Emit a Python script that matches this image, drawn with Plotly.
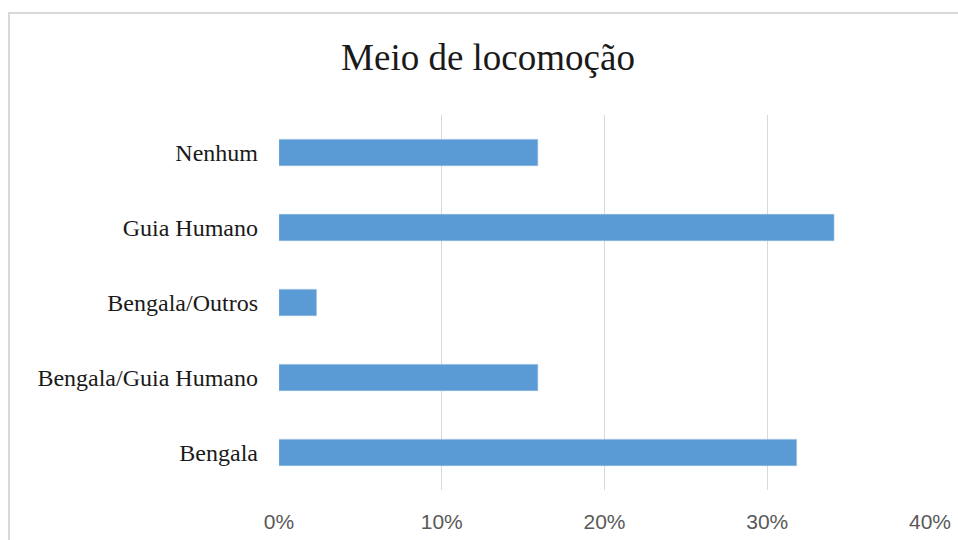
import plotly.graph_objects as go

categories = ["Bengala", "Bengala/Guia Humano", "Bengala/Outros", "Guia Humano", "Nenhum"]
values = [0.318, 0.159, 0.023, 0.341, 0.159]
tick_vals = [0, 0.1, 0.2, 0.3, 0.4]
tick_text = ["0%", "10%", "20%", "30%", "40%"]
title_text = "Meio de locomoção"

W, H = 958, 540
ml, mt = 279, 115
mr = W - 930
mb = H - 490
pw, ph = W - ml - mr, H - mt - mb


def px_x(x):
    return (x - ml) / pw


def px_y(y):
    return 1 - (y - mt) / ph


fig = go.Figure(
    go.Bar(
        x=values,
        y=categories,
        orientation="h",
        marker=dict(color="#5b9bd5", line=dict(color="#8db8e3", width=0.6)),
        hoverinfo="x+y",
    )
)

fig.update_layout(
    width=W,
    height=H,
    margin=dict(l=ml, r=mr, t=mt, b=mb, autoexpand=False),
    paper_bgcolor="white",
    plot_bgcolor="white",
    bargap=0.65,
    showlegend=False,
    title=dict(
        text=title_text,
        x=px_x(488),
        xref="paper",
        xanchor="center",
        y=1 - 57 / H,
        yanchor="middle",
        font=dict(family="Liberation Serif, Times New Roman, serif", size=37, color="#1a1a1a"),
    ),
    xaxis=dict(
        range=[0, 0.4],
        tickvals=tick_vals,
        ticktext=tick_text,
        showgrid=True,
        gridcolor="#d9d9d9",
        gridwidth=1,
        zeroline=False,
        showline=False,
        ticks="",
        ticklabelstandoff=17,
        ticklabeloverflow="allow",
        automargin=False,
        tickfont=dict(family="Liberation Sans, Arial, sans-serif", size=21, color="#595959"),
        fixedrange=True,
    ),
    yaxis=dict(
        showgrid=False,
        zeroline=False,
        showline=False,
        ticks="",
        ticklabelstandoff=20,
        automargin=False,
        tickfont=dict(family="Liberation Serif, Times New Roman, serif", size=24, color="#1a1a1a"),
        fixedrange=True,
    ),
    shapes=[
        dict(
            type="rect",
            xref="paper",
            yref="paper",
            x0=px_x(9),
            x1=px_x(980),
            y0=px_y(560),
            y1=px_y(13),
            line=dict(color="#d9d9d9", width=2),
            fillcolor="rgba(0,0,0,0)",
            layer="below",
        )
    ],
)

fig.write_html(
    "out.html",
    config={"displayModeBar": False},
    post_script="document.body.style.margin='0';document.body.style.overflow='hidden';",
)
